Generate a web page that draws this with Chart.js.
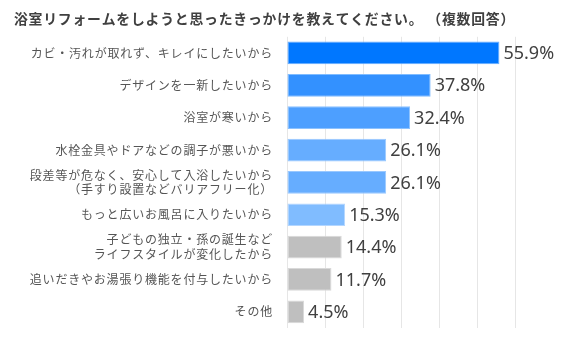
<!DOCTYPE html>
<html>
<head>
<meta charset="utf-8">
<script src="https://cdn.jsdelivr.net/npm/chart.js@4/dist/chart.umd.min.js"></script>
<style>
  html, body { margin: 0; padding: 0; background: #fff; }
  #wrap { width: 582px; height: 337px; }
</style>
</head>
<body>
<div id="wrap"><canvas id="chart"></canvas></div>
<script>
const titleText = "浴室リフォームをしようと思ったきっかけを教えてください。 （複数回答）";

const categories = [
  "カビ・汚れが取れず、キレイにしたいから",
  "デザインを一新したいから",
  "浴室が寒いから",
  "水栓金具やドアなどの調子が悪いから",
  ["段差等が危なく、安心して入浴したいから", "（手すり設置などバリアフリー化）"],
  "もっと広いお風呂に入りたいから",
  ["子どもの独立・孫の誕生など", "ライフスタイルが変化したから"],
  "追いだきやお湯張り機能を付与したいから",
  "その他"
];

const values = [55.9, 37.8, 32.4, 26.1, 26.1, 15.3, 14.4, 11.7, 4.5];

const barColors = [
  "#0077ff", "#3391ff", "#4d9fff", "#66adff", "#66adff",
  "#80bcff", "#bfbfbf", "#bfbfbf", "#bfbfbf"
];
const borderColors = [
  "#66adff", "#80bcff", "#8cc2ff", "#99c8ff", "#99c8ff",
  "#b3d6ff", "#d9d9d9", "#d9d9d9", "#d9d9d9"
];

const xTicks = [0, 10, 20, 30, 40, 50, 60];

// wider letter spacing for the japanese text
const spacing = {
  id: "spacing",
  beforeDraw(chart) {
    chart.ctx.letterSpacing = "0.8px";
  }
};

// value labels after each bar
const valueLabels = {
  id: "valueLabels",
  afterDatasetsDraw(chart) {
    const ctx = chart.ctx;
    const meta = chart.getDatasetMeta(0);
    ctx.save();
    ctx.letterSpacing = "0px";
    ctx.font = "18px 'Noto Sans'";
    ctx.fillStyle = "#404040";
    ctx.textAlign = "left";
    ctx.textBaseline = "middle";
    meta.data.forEach((bar, i) => {
      ctx.fillText(values[i].toFixed(1) + "%", bar.x + 4, bar.y + 1);
    });
    ctx.restore();
  }
};

chart = new Chart(document.getElementById("chart"), {
  type: "bar",
  data: {
    labels: categories,
    datasets: [{
      data: values,
      backgroundColor: barColors,
      borderColor: borderColors,
      borderWidth: 1,
      borderSkipped: false,
      barPercentage: 0.78,
      categoryPercentage: 0.9
    }]
  },
  options: {
    indexAxis: "y",
    responsive: true,
    maintainAspectRatio: false,
    animation: false,
    layout: { padding: { left: 14, right: 67, bottom: 9 } },
    plugins: {
      legend: { display: false },
      tooltip: { enabled: false },
      title: {
        display: true,
        text: titleText,
        align: "start",
        color: "#404040",
        font: { family: "'Noto Sans CJK JP'", size: 14, weight: "bold" },
        padding: { top: 10, bottom: 10 }
      }
    },
    scales: {
      x: {
        min: 0,
        max: 60,
        afterBuildTicks: (scale) => { scale.ticks = xTicks.map(v => ({ value: v })); },
        afterFit: (scale) => { scale.height = 0; },
        ticks: { display: false },
        grid: { color: "#e6e6e6", lineWidth: 1, drawTicks: false },
        border: { display: false },
        z: 1
      },
      y: {
        afterFit: (scale) => {
          scale.width = 273;
          scale.paddingTop = 0;
          scale.paddingBottom = 0;
        },
        ticks: {
          color: "#555555",
          font: { family: "'Noto Sans CJK JP'", size: 12 },
          padding: 14,
          autoSkip: false
        },
        grid: { display: false, drawTicks: false },
        border: { display: false }
      }
    }
  },
  plugins: [spacing, valueLabels]
});
</script>
</body>
</html>
